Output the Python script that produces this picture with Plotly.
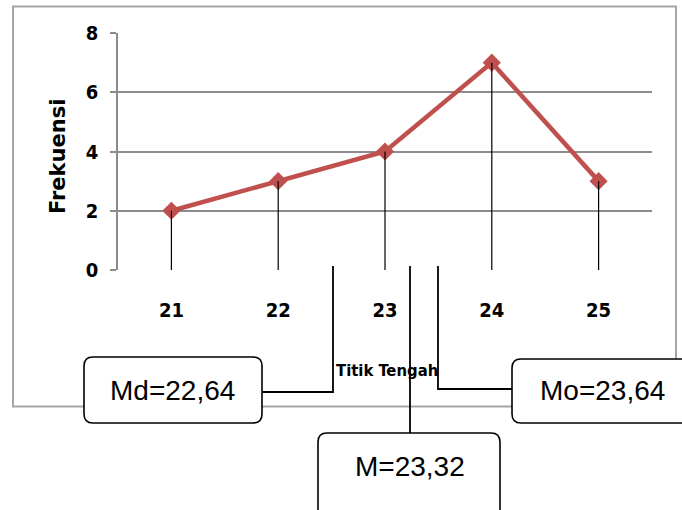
import plotly.graph_objects as go

# ---- data ----
titik_tengah = [21, 22, 23, 24, 25]
frekuensi = [2, 3, 4, 7, 3]
y_ticks = [0, 2, 4, 6, 8]
stat_labels = ["Md=22,64", "M=23,32", "Mo=23,64"]
x_title = "Titik Tengah"
y_title = "Frekuensi"

# ---- layout geometry (pixels) ----
W, H = 682, 510
L, R, T, B = 118, 652, 33, 270


def px(x):
    return (x - L) / (R - L)


def py(y):
    return (B - y) / (B - T)


def rrect(x0, y0, x1, y1, r=9):
    rx = r / (R - L)
    ry = r / (B - T)
    X0, X1 = px(x0), px(x1)
    Y0, Y1 = py(y0), py(y1)
    return (f"M {X0+rx},{Y0} L {X1-rx},{Y0} Q {X1},{Y0} {X1},{Y0-ry} "
            f"L {X1},{Y1+ry} Q {X1},{Y1} {X1-rx},{Y1} L {X0+rx},{Y1} "
            f"Q {X0},{Y1} {X0},{Y1+ry} L {X0},{Y0-ry} Q {X0},{Y0} {X0+rx},{Y0} Z")


fig = go.Figure()

fig.add_trace(go.Scatter(
    x=titik_tengah, y=frekuensi, mode="lines+markers",
    line=dict(color="#C0504D", width=4.5),
    marker=dict(symbol="diamond", size=14, color="#C0504D"),
    showlegend=False, hoverinfo="skip", cliponaxis=False,
))

dx, dy = [], []
for xv, yv in zip(titik_tengah, frekuensi):
    dx += [xv, xv, None]
    dy += [0, yv, None]
fig.add_trace(go.Scatter(
    x=dx, y=dy, mode="lines", line=dict(color="black", width=1.2),
    showlegend=False, hoverinfo="skip",
))

shapes = []
shapes.append(dict(type="rect", xref="paper", yref="paper",
                   x0=px(13), x1=px(676), y0=py(406.5), y1=py(6.5),
                   line=dict(color="#A6A6A6", width=2), layer="below"))

blk = dict(color="black", width=1.8)
shapes.append(dict(type="path", xref="paper", yref="paper",
                   path=f"M {px(333)},{py(266)} L {px(333)},{py(392)} L {px(262)},{py(392)}",
                   line=blk))
shapes.append(dict(type="line", xref="paper", yref="paper",
                   x0=px(410), x1=px(410), y0=py(266), y1=py(433), line=blk))
shapes.append(dict(type="path", xref="paper", yref="paper",
                   path=f"M {px(438)},{py(266)} L {px(438)},{py(389)} L {px(512)},{py(389)}",
                   line=blk))

boxes = [(84, 357, 262, 423), (318, 433, 500, 530), (512, 359, 700, 423)]
for b in boxes:
    shapes.append(dict(type="path", xref="paper", yref="paper", path=rrect(*b),
                       fillcolor="white", line=dict(color="black", width=1.6)))

annotations = []
text_pos = [(172, 390), (410, 467), (602, 390)]
for lab, (tx, ty) in zip(stat_labels, text_pos):
    annotations.append(dict(xref="paper", yref="paper", x=px(tx), y=py(ty),
                            text=lab, showarrow=False,
                            font=dict(family="Liberation Sans, Arial", size=28, color="black"),
                            xanchor="center", yanchor="middle"))

annotations.append(dict(xref="paper", yref="paper", x=px(387), y=py(370),
                        text=x_title, showarrow=False,
                        font=dict(family="DejaVu Sans Condensed", size=16.5, color="black",
                                  weight="bold"),
                        xanchor="center", yanchor="middle"))
annotations.append(dict(xref="paper", yref="paper", x=px(58), y=py(157),
                        text=y_title, showarrow=False, textangle=-90,
                        font=dict(family="DejaVu Sans", size=21, color="black", weight="bold"),
                        xanchor="center", yanchor="middle"))

tickfont = dict(family="DejaVu Sans Condensed", size=20, color="black", weight="bold")

fig.update_layout(
    width=W, height=H,
    margin=dict(l=L, r=W - R, t=T, b=H - B),
    paper_bgcolor="white", plot_bgcolor="white",
    shapes=shapes, annotations=annotations,
    xaxis=dict(range=[20.5, 25.5], tickvals=titik_tengah,
               ticktext=[str(v) for v in titik_tengah],
               showgrid=False, zeroline=False, showline=False, ticks="",
               ticklabelstandoff=26, tickfont=tickfont, fixedrange=True),
    yaxis=dict(range=[0, 8], tickvals=y_ticks,
               showgrid=True, gridcolor="#8C8C8C", gridwidth=1.8,
               zeroline=False, showline=True, linecolor="#8C8C8C", linewidth=1.5,
               ticks="outside", ticklen=6, tickcolor="#8C8C8C", tickwidth=1.8,
               ticklabelstandoff=8, tickfont=tickfont, fixedrange=True),
)

fig.write_html("out.html", config={"displayModeBar": False},
               post_script="document.body.style.margin='0';document.body.style.overflow='hidden';")
